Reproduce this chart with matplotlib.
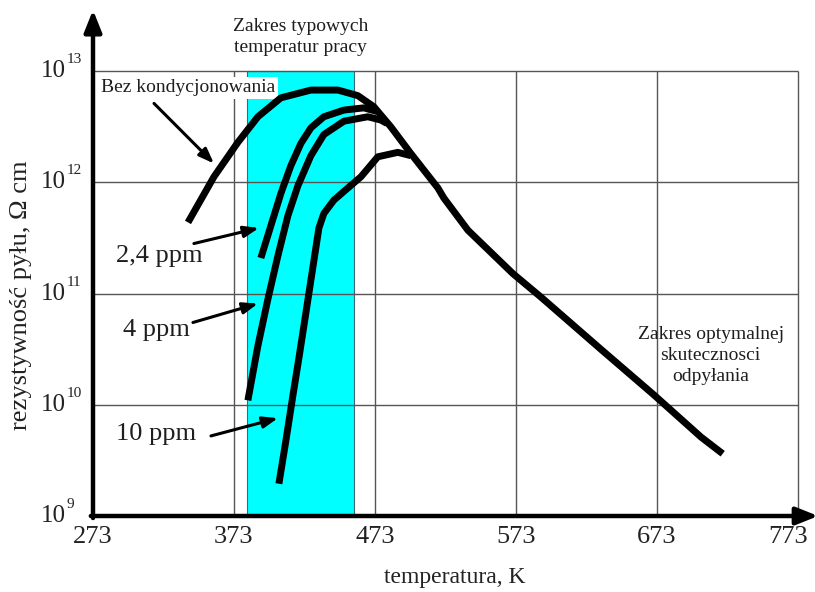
import numpy as np
import matplotlib
matplotlib.use("Agg")
import matplotlib.pyplot as plt
from matplotlib.transforms import ScaledTranslation

plt.rcParams["font.family"] = ["Liberation Serif", "DejaVu Serif"]

# temperature [K] and log10 of resistivity [ohm cm] along each curve
T_bez = [340.4, 358.8, 375.8, 390.0, 406.3, 427.6, 446.8, 460.9, 472.3, 484.3,
         498.5, 517.7, 521.9, 539.0, 570.9, 590.7, 633.3, 670.9, 704.4, 719.8]
logR_bez = [11.64, 12.05, 12.36, 12.59, 12.76, 12.83, 12.83, 12.78, 12.68, 12.50,
            12.26, 11.95, 11.86, 11.57, 11.18, 10.97, 10.50, 10.09, 9.71, 9.56]

T_24 = [392.1, 399.2, 406.3, 413.4, 420.5, 427.6, 436.8, 451.0, 465.2, 473.7]
logR_24 = [11.32, 11.61, 11.90, 12.15, 12.35, 12.49, 12.59, 12.65, 12.67, 12.64]

T_4 = [382.9, 390.0, 397.1, 404.2, 411.3, 418.4, 427.6, 436.8, 451.0, 468.0, 477.3, 481.5]
logR_4 = [10.04, 10.53, 10.95, 11.34, 11.70, 11.97, 12.24, 12.43, 12.55, 12.59, 12.56, 12.53]

T_10 = [404.9, 409.9, 414.8, 419.1, 424.1, 427.6, 433.3, 436.8, 443.9, 453.9,
        463.1, 475.1, 489.3, 498.5]
logR_10 = [9.29, 9.68, 10.08, 10.42, 10.83, 11.12, 11.59, 11.72, 11.84, 11.95,
           12.05, 12.23, 12.27, 12.24]

x_ticks = [273, 373, 473, 573, 673, 773]
y_exps = [9, 10, 11, 12, 13]
band = (382, 458)  # typical operating temperature range

fig = plt.figure(figsize=(8.15, 5.92), dpi=100)
ax = fig.add_axes([93 / 815, 76 / 592, 723 / 815, 506 / 592])
ax.set_xlim(273, 786)
ax.set_yscale("log")
ax.set_ylim(1e9, 10 ** 13.55)
for s in ax.spines.values():
    s.set_visible(False)

# cyan operating band
ax.fill_between(band, 1e9, 1e13, facecolor="#00ffff", edgecolor="#3a6a7a",
                linewidth=0.8, zorder=1)

# grid drawn by hand so it stops at 1e13 / 773 K
grid_c = "#555555"
ax.hlines([10.0 ** e for e in y_exps[1:]], 273, 773, colors=grid_c, lw=1.0, zorder=2)
ax.vlines(x_ticks[1:], 1e9, 1e13, colors=grid_c, lw=1.0, zorder=2)

# axes as thick arrows
axis_arrow = dict(arrowstyle="-|>,head_length=0.55,head_width=0.22", lw=3.2,
                  color="black", mutation_scale=24, shrinkA=0, shrinkB=0)
ax.annotate("", xy=(0, 1), xytext=(0, -0.004), xycoords="axes fraction",
            arrowprops=axis_arrow, annotation_clip=False, zorder=5)
ax.annotate("", xy=(1.003, 0), xytext=(-0.003, 0), xycoords="axes fraction",
            arrowprops=axis_arrow, annotation_clip=False, zorder=5)

curve_kw = dict(color="black", lw=5, solid_capstyle="butt", solid_joinstyle="round", zorder=4)
ax.plot(T_bez, 10 ** np.array(logR_bez), **curve_kw)
ax.plot(T_24, 10 ** np.array(logR_24), **curve_kw)
ax.plot(T_4, 10 ** np.array(logR_4), **curve_kw)
ax.plot(T_10, 10 ** np.array(logR_10), **curve_kw)

ax.set_xticks(x_ticks)
ax.set_xticklabels([str(t) for t in x_ticks])
ax.set_yticks([10.0 ** e for e in y_exps])
ax.set_yticklabels([])
ax.minorticks_off()
ax.tick_params(axis="x", length=0, pad=7, labelsize=19, colors="#222222")
ax.tick_params(axis="y", length=0)
# last x label pulled left so it stays on the canvas
last = ax.get_xticklabels()[-1]
last.set_transform(last.get_transform() + ScaledTranslation(-10 / 100, 0, fig.dpi_scale_trans))

# y labels as "10" with a small raised exponent
ytrans = ax.get_yaxis_transform()
sup_shift = ScaledTranslation(0, 8 / 100, fig.dpi_scale_trans)
for e in y_exps:
    ax.text(-0.037, 10.0 ** e, "10", transform=ytrans, fontsize=18, color="#222222",
            ha="right", va="center", clip_on=False)
    ax.text(-0.0365, 10.0 ** e, str(e), transform=ytrans + sup_shift, fontsize=11,
            color="#222222", ha="left", va="baseline", clip_on=False)

ax.set_xlabel("temperatura, K", fontsize=17, color="#222222", labelpad=14)
ax.set_ylabel("rezystywność pyłu, Ω cm", fontsize=19, color="#222222")
ax.yaxis.set_label_coords(-0.084, 0.437)

txt_c = "#1e1e1e"
ax.text(278.7, 10 ** 12.85, "Bez kondycjonowania", fontsize=14, color=txt_c,
        ha="left", va="center", zorder=3,
        bbox=dict(facecolor="white", edgecolor="none", pad=2))
ax.text(420.5, 10 ** 13.31, "Zakres typowych\ntemperatur pracy", fontsize=14,
        color=txt_c, ha="center", va="center", linespacing=1.3)
ax.text(711.3, 10 ** 10.44, "Zakres optymalnej\nskutecznosci\nodpyłania", fontsize=14,
        color=txt_c, ha="center", va="center", linespacing=1.3, zorder=3)

note_arrow = dict(arrowstyle="-|>,head_length=0.45,head_width=0.17", lw=2.2,
                  color="black", mutation_scale=20, shrinkA=0, shrinkB=0)
ax.annotate("", xy=(358.8, 10 ** 12.17), xytext=(316.3, 10 ** 12.71),
            arrowprops=note_arrow, zorder=4)
labels = [("2,4 ppm", 319.8, 11.34, (344.6, 11.45), (390.7, 11.59)),
          ("4 ppm", 317.7, 10.67, (343.9, 10.74), (390.0, 10.91)),
          ("10 ppm", 317.7, 9.74, (356.7, 9.72), (404.2, 9.88))]
for text, tx, ty, tail, head in labels:
    ax.text(tx, 10 ** ty, text, fontsize=19, color=txt_c, ha="center", va="center")
    ax.annotate("", xy=(head[0], 10 ** head[1]), xytext=(tail[0], 10 ** tail[1]),
                arrowprops=note_arrow, zorder=4)

fig.savefig("out.png", dpi=100)
